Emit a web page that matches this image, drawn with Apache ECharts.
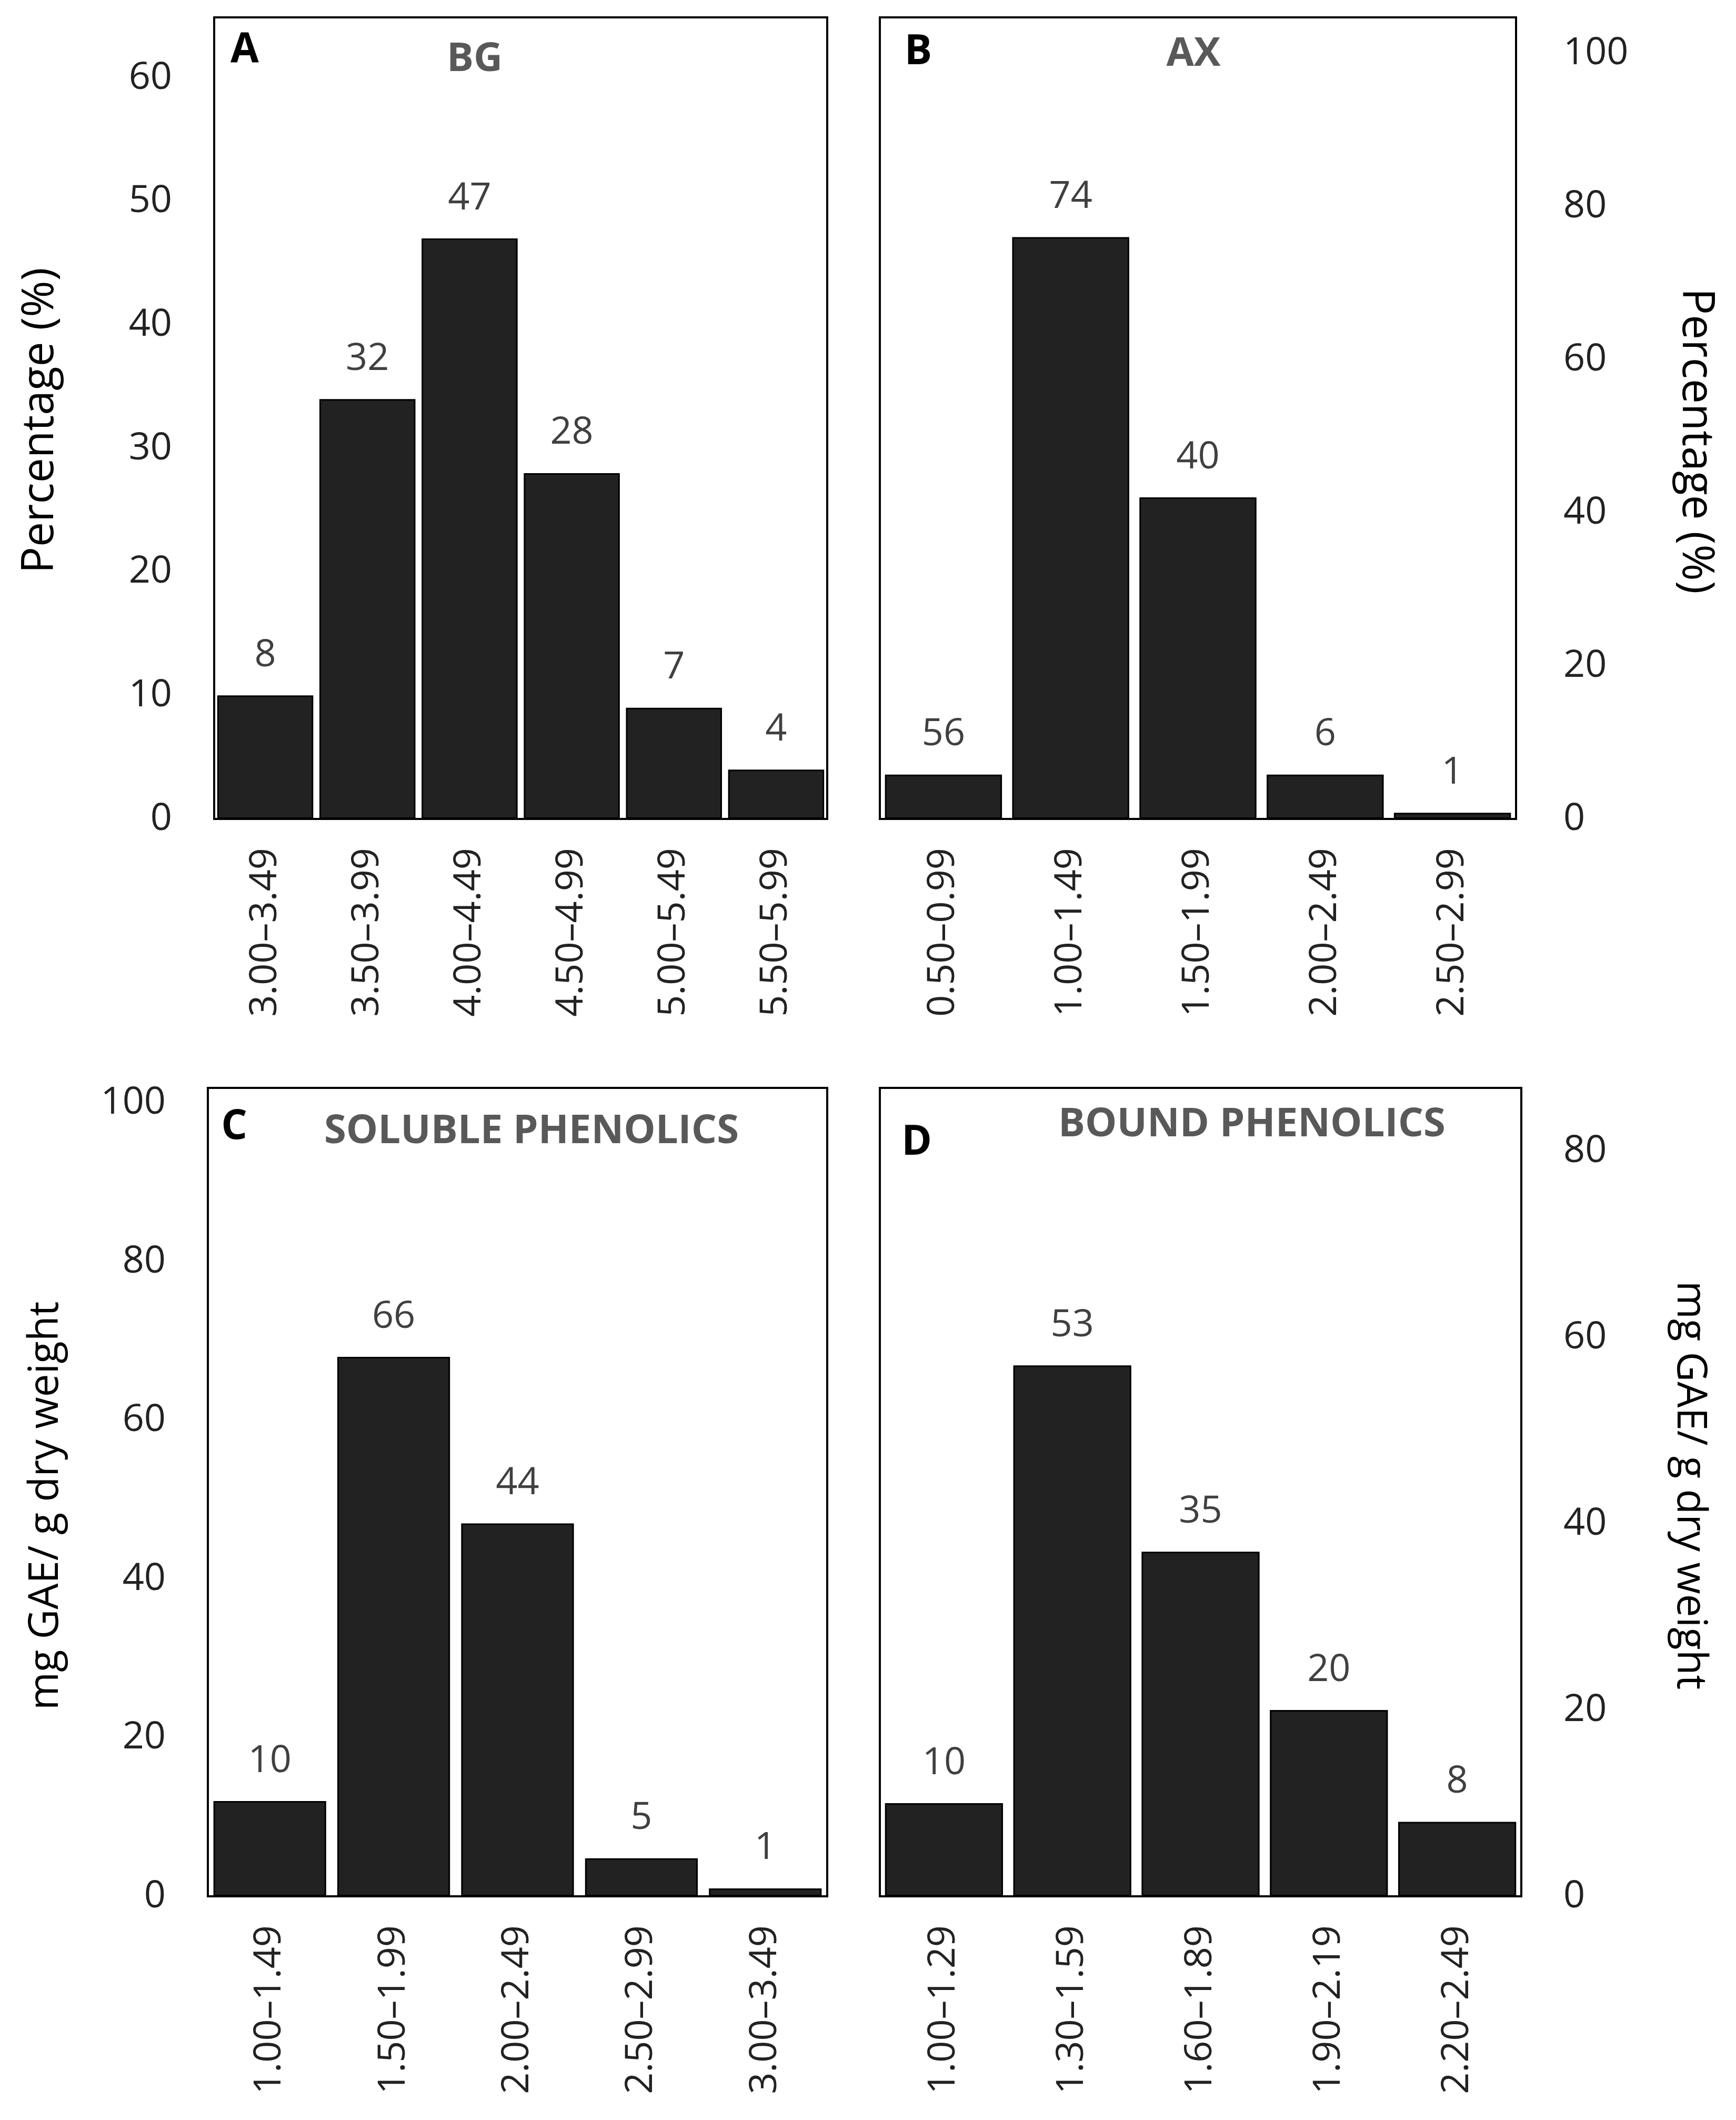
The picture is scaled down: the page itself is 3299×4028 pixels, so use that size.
<!DOCTYPE html>
<html>
<head>
<meta charset="utf-8">
<title>Distribution histograms</title>
<script src="https://cdn.jsdelivr.net/npm/echarts@6/dist/echarts.min.js"></script>
<style>
  html, body { margin: 0; padding: 0; background: #fff; }
</style>
</head>
<body>
<div id="main" style="width:3299px;height:4028px;"></div>
<script type="text/javascript">

// panel A - BG
var bgCats = ['3.00–3.49', '3.50–3.99', '4.00–4.49', '4.50–4.99', '5.00–5.49', '5.50–5.99'];
var bgHeights = [10, 34, 47, 28, 9, 4];
var bgLabels = [8, 32, 47, 28, 7, 4];

// panel B - AX
var axCats = ['0.50–0.99', '1.00–1.49', '1.50–1.99', '2.00–2.49', '2.50–2.99'];
var axHeights = [5.8, 76, 42, 5.8, 0.8];
var axLabels = [56, 74, 40, 6, 1];

// panel C - soluble phenolics
var spCats = ['1.00–1.49', '1.50–1.99', '2.00–2.49', '2.50–2.99', '3.00–3.49'];
var spHeights = [12, 68, 47, 4.8, 1];
var spLabels = [10, 66, 44, 5, 1];

// panel D - bound phenolics
var bpCats = ['1.00–1.29', '1.30–1.59', '1.60–1.89', '1.90–2.19', '2.20–2.49'];
var bpHeights = [10, 57, 37, 20, 8];
var bpLabels = [10, 53, 35, 20, 8];

var FONT = '"Open Sans", "Liberation Sans", sans-serif';

var myChart = echarts.init(document.getElementById('main'), null, {renderer: 'canvas'});

var grids = [
    {left: 407, top: 33, width: 1165, height: 1523},
    {left: 1672, top: 33, width: 1209, height: 1523},
    {left: 395, top: 2067, width: 1177, height: 1536},
    {left: 1672, top: 2067, width: 1219, height: 1536}
];
grids.forEach(function (g) {
    g.show = true;
    g.borderColor = '#000';
    g.borderWidth = 4;
    g.backgroundColor = 'transparent';
});

var panels = [
    {cats: bgCats, vals: bgHeights, labels: bgLabels, max: 64.9, interval: 10, pos: 'left', margin: 80, gap: '6%'},
    {cats: axCats, vals: axHeights, labels: axLabels, max: 104.7, interval: 20, pos: 'right', margin: 90, gap: '8%'},
    {cats: spCats, vals: spHeights, labels: spLabels, max: 101.9, interval: 20, pos: 'left', margin: 80, gap: '9%'},
    {cats: bpCats, vals: bpHeights, labels: bpLabels, max: 86.8, interval: 20, pos: 'right', margin: 80, gap: '8%'}
];

var xAxis = [], yAxis = [], series = [];
panels.forEach(function (p, i) {
    xAxis.push({
        type: 'category',
        gridIndex: i,
        data: p.cats,
        axisLine: {show: true, lineStyle: {color: '#000', width: 4}},
        axisTick: {show: false},
        axisLabel: {rotate: 90, margin: 55, fontSize: 72, color: '#222', fontFamily: FONT}
    });
    yAxis.push({
        type: 'value',
        gridIndex: i,
        position: p.pos,
        min: 0,
        max: p.max,
        interval: p.interval,
        splitLine: {show: false},
        axisLine: {show: false},
        axisTick: {show: false},
        axisLabel: {showMaxLabel: false, margin: p.margin, fontSize: 72, color: '#222', fontFamily: FONT}
    });
    series.push({
        type: 'bar',
        xAxisIndex: i,
        yAxisIndex: i,
        data: p.vals,
        barCategoryGap: p.gap,
        itemStyle: {color: '#222222', borderColor: '#000', borderWidth: 3},
        label: {
            show: true,
            position: 'top',
            distance: 40,
            fontSize: 72,
            color: '#404040',
            fontFamily: FONT,
            formatter: function (params) {
                return p.labels[params.dataIndex];
            }
        },
        silent: true,
        animation: false
    });
});

function txt(x, y, s, size, weight, color, rot) {
    return {
        type: 'text',
        x: x,
        y: y,
        rotation: rot || 0,
        style: {
            text: s,
            font: weight + ' ' + size + 'px ' + FONT,
            fill: color,
            textAlign: 'center',
            textVerticalAlign: 'middle'
        }
    };
}

var graphics = [
    // panel letters
    txt(465, 96, 'A', 78, 'bold', '#000'),
    txt(1745, 100, 'B', 78, 'bold', '#000'),
    txt(445, 2142, 'C', 78, 'bold', '#000'),
    txt(1742, 2172, 'D', 78, 'bold', '#000'),
    // panel titles
    txt(902, 113, 'BG', 76, 'bold', '#595959'),
    txt(2268, 103, 'AX', 76, 'bold', '#595959'),
    txt(1010, 2150, 'SOLUBLE PHENOLICS', 76, 'bold', '#595959'),
    txt(2379, 2137, 'BOUND PHENOLICS', 76, 'bold', '#595959'),
    // axis titles
    txt(77, 799, 'Percentage (%)', 84, 'normal', '#000', Math.PI / 2),
    txt(3222, 838, 'Percentage (%)', 84, 'normal', '#000', -Math.PI / 2),
    txt(88, 2861, 'mg GAE/ g dry weight', 78, 'normal', '#000', Math.PI / 2),
    txt(3210, 2822, 'mg GAE/ g dry weight', 78, 'normal', '#000', -Math.PI / 2)
];

var option = {
    backgroundColor: '#fff',
    animation: false,
    grid: grids,
    xAxis: xAxis,
    yAxis: yAxis,
    series: series,
    graphic: graphics
};

myChart.setOption(option);
</script>
</body>
</html>
